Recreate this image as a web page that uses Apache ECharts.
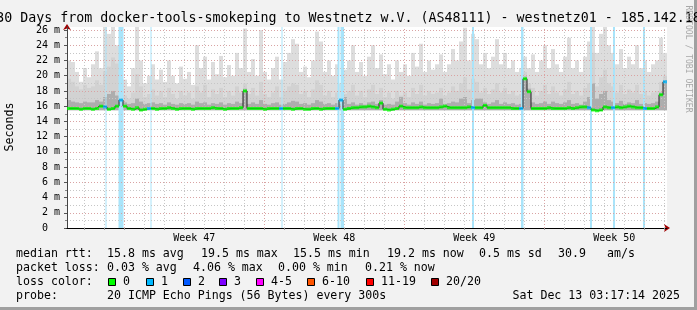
<!DOCTYPE html>
<html><head><meta charset="utf-8">
<script src="https://cdn.jsdelivr.net/npm/echarts@6/dist/echarts.min.js"></script>
<style>html,body{margin:0;padding:0;background:#f2f2f2;overflow:hidden}#c{width:697px;height:310px}</style>
</head><body><div id="c"></div>
<script>
// ---------------- DATA ----------------
// 150 consolidated columns over 30 days (4.8 h each)
const smokeTop = [22.0,21.8,20.5,19.2,21.0,19.8,21.5,23.2,21.0,26.4,
 25.5,26.4,24.0,26.4,19.5,18.6,21.0,26.4,22.0,19.0,
 20.0,21.5,19.5,20.8,19.2,22.0,20.0,19.0,21.2,19.6,
 20.5,18.8,24.0,21.0,22.5,19.5,21.8,20.2,22.6,19.8,
 21.4,20.0,23.0,21.0,26.2,20.5,22.2,20.0,26.0,20.5,
 19.5,21.0,22.5,19.5,21.8,23.0,24.8,24.2,20.5,21.2,
 19.8,22.0,25.8,24.5,20.5,22.0,20.0,21.5,19.0,20.8,
 22.0,24.0,20.5,21.8,20.0,22.5,24.0,21.0,22.8,20.2,
 21.5,19.5,22.0,20.5,21.5,20.0,23.0,21.2,24.2,20.5,
 22.0,20.8,21.5,22.8,20.5,21.5,23.5,22.0,24.5,26.3,
 22.0,25.5,24.8,21.5,23.0,21.0,22.5,24.8,21.5,23.0,
 21.0,22.0,20.5,21.0,22.5,21.0,22.8,20.5,22.0,24.0,
 21.0,23.5,21.5,20.5,22.5,25.0,21.0,22.0,20.5,22.5,
 24.5,26.4,23.0,25.5,26.4,24.0,23.0,21.5,23.5,21.0,
 22.5,21.5,24.0,21.0,22.0,20.5,21.5,22.0,25.0,23.0];
const smokeMid = [19.6,19.2,18.6,18.2,18.8,18.4,18.6,19.4,18.8,
 20.6,21.2,22.4,21.6,22.0,
 17.4,17.0,17.8,20.2,18.6,17.2,
 17.6,18.2,17.4,18.0,17.2,18.4,17.6,17.0,18.0,17.4,17.8,17.0,18.6,17.8,18.8,17.2,18.2,17.6,18.4,17.2,18.0,17.4,18.6,17.8,
 19.0,17.6,18.4,17.4,19.2,17.6,
 17.2,17.8,18.6,17.2,18.0,18.6,19.0,18.8,17.6,18.0,17.2,18.2,19.4,18.8,17.4,18.0,17.2,17.8,17.0,17.6,
 18.0,18.8,17.4,18.0,17.2,18.2,18.8,17.6,18.4,17.2,17.8,17.0,18.0,17.4,17.8,17.2,18.4,17.6,18.8,17.4,18.0,17.6,17.8,18.4,17.4,17.8,18.6,18.0,19.0,19.8,
 18.2,19.6,19.2,17.8,18.4,17.6,18.2,19.0,17.8,18.4,17.6,18.0,17.4,17.6,20.5,19.0,18.4,17.4,18.0,18.8,
 17.6,18.6,17.8,17.4,18.2,19.2,17.6,18.0,17.4,18.4,19.0,23.0,18.6,19.8,20.8,19.0,18.6,17.8,18.8,17.6,18.2,17.8,18.8,17.6,18.0,17.4,17.8,18.0,19.2,20.0];
const smokeDark = [16.8,16.6,16.5,16.4,16.6,16.5,16.5,16.8,16.6,
 17.2,17.6,18.0,17.4,17.8,
 16.5,16.3,16.4,17.0,16.6,16.3,
 16.4,16.5,16.3,16.4,16.2,16.5,16.3,16.2,16.4,16.3,16.4,16.2,16.6,16.4,16.5,16.2,16.4,16.3,16.5,16.2,16.4,16.3,16.6,16.4,
 18.3,16.3,16.5,16.3,16.8,16.3,
 16.2,16.4,16.5,16.2,16.3,16.5,16.7,16.6,16.3,16.4,16.2,16.4,16.8,16.6,16.3,16.4,16.2,16.4,16.3,17.2,
 16.3,16.5,16.2,16.4,16.2,16.5,16.6,16.3,16.8,16.2,16.3,16.2,16.6,17.2,16.4,16.2,16.5,16.3,16.6,16.2,16.4,16.3,16.4,17.0,16.3,16.4,16.6,16.5,17.0,17.2,
 16.4,16.8,17.0,17.0,16.5,16.3,16.5,16.8,16.3,16.5,16.3,16.4,16.2,16.3,19.9,18.3,16.5,16.3,16.4,16.6,
 16.3,16.6,16.4,16.3,16.5,16.8,16.3,16.4,16.2,16.6,17.2,19.0,17.0,17.6,18.0,16.8,16.6,16.4,16.7,16.3,16.5,16.4,16.8,16.3,16.4,16.3,16.4,16.6,17.8,19.4];
const medianRtt = [15.7,15.7,15.7,15.6,15.7,15.7,15.6,15.7,
 16.0,15.9,15.6,15.7,16.0,16.8,16.0,15.7,
 15.6,15.8,15.5,15.6,15.7,15.7,15.6,15.7,15.7,15.8,15.7,15.6,15.7,15.7,15.7,15.6,15.7,15.7,15.7,15.7,15.8,15.7,15.7,15.6,15.7,15.7,15.7,15.8,
 18.0,15.7,
 15.7,15.7,15.7,15.6,15.7,15.7,15.7,15.7,15.7,15.7,15.6,15.7,15.7,15.6,15.6,15.7,15.7,15.6,15.7,15.7,15.7,15.7,
 16.8,15.6,
 15.7,15.8,15.8,15.9,15.9,16.0,15.9,15.8,
 16.4,15.6,15.5,15.6,15.7,
 16.0,15.8,15.8,15.8,15.8,15.9,15.8,15.8,15.8,15.8,15.9,16.0,15.8,15.8,15.8,15.8,15.8,15.9,15.8,15.8,15.8,16.1,15.8,15.8,15.8,15.8,15.8,15.8,15.7,15.7,
 15.7,19.6,17.9,
 15.7,15.7,15.7,15.7,15.8,15.7,15.7,15.7,15.7,15.8,15.7,15.8,15.9,15.9,
 15.8,15.5,15.4,15.5,15.9,15.8,15.8,
 15.9,15.8,15.9,16.0,15.9,15.8,15.8,
 15.7,15.7,15.7,15.9,17.5,19.2];
// columns whose median is coloured as "1 lost ping"
const lossColumns = [9,13,20,53,67,68,101,113,130,136,144,149];
// loss background stripes, [start hour, end hour] from graph start
const lossBands = [[46.2,47.4],[61.8,67.8],[100.2,101.4],[257.4,258.6],[324.6,327.0],[328.2,332.4],
 [486.0,488.4],[544.8,547.8],[627.6,630.0],[655.2,657.6],[691.2,693.6]];
const weekLabels = ['Week 47','Week 48','Week 49','Week 50'];
const yTickValues = [0,2,4,6,8,10,12,14,16,18,20,22,24,26];
const lossLegendLabels = ['0','1','2','3','4-5','6-10','11-19','20/20'];
const lossLegendColors = ['#00ff00','#00b8ff','#0059ff','#7e00ff','#ff00ff','#ff5500','#ff0000','#a10000'];
const statsRtt = ['15.8 ms avg','19.5 ms max','15.5 ms min','19.2 ms now','0.5 ms sd','30.9','am/s'];
const statsLoss = ['0.03 % avg','4.06 % max','0.00 % min','0.21 % now'];
const titleText = '30 Days from docker-tools-smokeping to Westnetz w.V. (AS48111) - westnetz01 - 185.142.18';
const probeText = '20 ICMP Echo Pings (56 Bytes) every 300s';
const stampText = 'Sat Dec 13 03:17:14 2025';

// ---------------- layout / style ----------------
const FONT = 'DejaVu Sans Mono';
const Y_MAX_DATA = 26.4, Y_MAX_AXIS = 26, SMOKE_FLOOR = 15.45, TOTAL_HOURS = 720;
const START = Date.UTC(2025,10,13,3,17,14), HOUR = 3600e3;
const dayLines = [];
for (let t = Date.UTC(2025,10,14); t < START + TOTAL_HOURS*HOUR; t += 24*HOUR)
  dayLines.push({h:(t-START)/HOUR, sunday:new Date(t).getUTCDay()===0});
const weekCenters = dayLines.filter(d=>d.sunday).map(d=>d.h+84);
const categories = smokeTop.map((_,i)=>i);
const colW = 600/smokeTop.length;

const rttX = [107,201,293,387,479,558,607];
const lossX = [107,193,278,365];
const boxX = [108,146,183,219,256,307,366,431];

const graphics = [
  {type:'rect', shape:{x:0,y:307,width:697,height:3}, style:{fill:'#a0a0a0'}, silent:true},
  {type:'rect', shape:{x:694,y:0,width:3,height:310}, style:{fill:'#a0a0a0'}, silent:true},
  {type:'text', x:348.5, y:18.5, style:{text:titleText, fontFamily:FONT, fontSize:13.3, fill:'#000', align:'center', verticalAlign:'middle'}},
  {type:'text', x:10, y:127, rotation:Math.PI/2, style:{text:'Seconds', fontFamily:FONT, fontSize:11.6, fill:'#000', align:'center', verticalAlign:'middle'}},
  {type:'text', x:688, y:59, rotation:-Math.PI/2, style:{text:'RRDTOOL / TOBI OETIKER', fontFamily:FONT, fontSize:8.1, fill:'#a8a8a8', align:'center', verticalAlign:'middle'}},
  {type:'text', x:16, y:254, style:{text:'median rtt:', fontFamily:FONT, fontSize:11.6, fill:'#000', verticalAlign:'middle'}},
  {type:'text', x:16, y:268, style:{text:'packet loss:', fontFamily:FONT, fontSize:11.6, fill:'#000', verticalAlign:'middle'}},
  {type:'text', x:16, y:282, style:{text:'loss color:', fontFamily:FONT, fontSize:11.6, fill:'#000', verticalAlign:'middle'}},
  {type:'text', x:16, y:296, style:{text:'probe:', fontFamily:FONT, fontSize:11.6, fill:'#000', verticalAlign:'middle'}},
  {type:'text', x:107, y:296, style:{text:probeText, fontFamily:FONT, fontSize:11.6, fill:'#000', verticalAlign:'middle'}},
  {type:'text', x:680, y:296, style:{text:stampText, fontFamily:FONT, fontSize:11.6, fill:'#000', align:'right', verticalAlign:'middle'}}
];
statsRtt.forEach((s,i)=>graphics.push({type:'text', x:rttX[i], y:254, style:{text:s, fontFamily:FONT, fontSize:11.6, fill:'#000', verticalAlign:'middle'}}));
statsLoss.forEach((s,i)=>graphics.push({type:'text', x:lossX[i], y:268, style:{text:s, fontFamily:FONT, fontSize:11.6, fill:'#000', verticalAlign:'middle'}}));
lossLegendLabels.forEach((s,i)=>{
  graphics.push({type:'rect', shape:{x:boxX[i]+0.5,y:278.5,width:7,height:7}, style:{fill:lossLegendColors[i], stroke:'#000', lineWidth:1}});
  graphics.push({type:'text', x:boxX[i]+15, y:282, style:{text:s, fontFamily:FONT, fontSize:11.6, fill:'#000', verticalAlign:'middle'}});
});

const chart = echarts.init(document.getElementById('c'), null, {renderer:'canvas', width:697, height:310, devicePixelRatio:1});
const hidden = {show:false};
chart.setOption({
  animation:false,
  backgroundColor:'#f2f2f2',
  grid:[
    {left:67, right:30, top:27, bottom:82, show:true, backgroundColor:'#ffffff', borderWidth:0},
    {left:67, right:30, top:30, bottom:82, show:false}
  ],
  xAxis:[
    {type:'category', gridIndex:0, data:categories, show:false, position:'bottom'},
    {type:'value', gridIndex:0, min:0, max:TOTAL_HOURS, position:'bottom', z:4,
     axisLine:{show:true, lineStyle:{color:'#000', width:1}},
     axisTick:{show:true, customValues:dayLines.map(d=>d.h), length:2, lineStyle:{color:'#999'}},
     axisLabel:{show:true, customValues:weekCenters, margin:5, fontFamily:FONT, fontSize:10, color:'#000',
       formatter:(v)=>{const i=weekCenters.findIndex(c=>Math.abs(c-v)<1e-6); return i>=0?weekLabels[i]:'';}},
     splitLine:hidden},
    {type:'value', gridIndex:0, min:0, max:TOTAL_HOURS, position:'bottom', z:3,
     axisLine:{show:true, symbol:['none','arrow'], symbolSize:[6,6], symbolOffset:[0,3], lineStyle:{color:'#a00000', width:1}},
     axisTick:hidden, axisLabel:hidden, splitLine:hidden},
    {type:'value', gridIndex:1, min:0, max:TOTAL_HOURS, show:false}
  ],
  yAxis:[
    {type:'value', gridIndex:0, min:0, max:Y_MAX_DATA, z:4,
     axisLine:{show:true, lineStyle:{color:'#444', width:1}}, axisTick:hidden, axisLabel:hidden, splitLine:hidden},
    {type:'value', gridIndex:1, min:0, max:Y_MAX_AXIS, interval:2, z:3,
     axisLine:{show:false},
     axisTick:{show:true, length:3, lineStyle:{color:'#555'}},
     minorTick:{show:true, splitNumber:2, length:2, lineStyle:{color:'#888'}},
     axisLabel:{margin:7, fontFamily:FONT, fontSize:10, color:'#000',
       formatter:(v)=> yTickValues.indexOf(v)<0 ? '' : (v===0 ? '0  ' : v+' m')},
     splitLine:{show:true, lineStyle:{color:'#d9a3a3', type:[1,2], width:1}},
     minorSplitLine:{show:true, lineStyle:{color:'#c6c6c6', type:[1,2], width:1}}},
    {type:'value', gridIndex:0, min:0, max:Y_MAX_DATA, z:2,
     axisLine:{show:true, symbol:['none','arrow'], symbolSize:[6,6], symbolOffset:[0,3], lineStyle:{color:'#a00000', width:1}},
     axisTick:hidden, axisLabel:hidden, splitLine:hidden}
  ],
  series:[
    {type:'bar', xAxisIndex:0, yAxisIndex:0, data:smokeTop, barGap:'-100%', barCategoryGap:'0%', itemStyle:{color:'#dddddd'}, silent:true, z:1},
    {type:'bar', xAxisIndex:0, yAxisIndex:0, data:smokeMid, barGap:'-100%', barCategoryGap:'0%', itemStyle:{color:'#d2d2d2'}, silent:true, z:1},
    {type:'bar', xAxisIndex:0, yAxisIndex:0, data:smokeDark, barGap:'-100%', barCategoryGap:'0%', itemStyle:{color:'#adadad'}, silent:true, z:1},
    {type:'bar', xAxisIndex:0, yAxisIndex:0, data:smokeTop.map(()=>SMOKE_FLOOR), barGap:'-100%', barCategoryGap:'0%', itemStyle:{color:'#ffffff'}, silent:true, z:1},
    {type:'custom', xAxisIndex:1, yAxisIndex:0, silent:true, z:2,
     data:lossBands.map(b=>[b[0],b[1],0]), encode:{x:[0,1], y:2},
     renderItem:(params, api)=>{
       const p0 = api.coord([api.value(0), Y_MAX_DATA]);
       const p1 = api.coord([api.value(1), 0]);
       return {type:'rect', shape:{x:p0[0], y:p0[1], width:Math.max(p1[0]-p0[0],1), height:p1[1]-p0[1]}, style:{fill:'#a9e4fa'}};
     }},
    {type:'line', xAxisIndex:1, yAxisIndex:0, data:[], silent:true,
     markLine:{silent:true, symbol:['none','none'], label:{show:false}, z:3, animation:false,
       data:dayLines.map(d=>({xAxis:d.h, lineStyle:{color:d.sunday?'#d9a3a3':'#c6c6c6', type:[1,2], width:1}}))}},
    {type:'line', xAxisIndex:0, yAxisIndex:0, data:medianRtt, step:'middle', symbol:'none', silent:true, z:5,
     lineStyle:{color:'#202020', width:1}},
    {type:'scatter', xAxisIndex:0, yAxisIndex:0, silent:true, z:6, symbol:'rect', symbolSize:[colW,3],
     data:medianRtt.map((v,i)=>({value:v, itemStyle:{color: lossColumns.indexOf(i)>=0 ? lossLegendColors[1] : lossLegendColors[0]}}))}
  ],
  graphic:graphics
});
</script></body></html>
